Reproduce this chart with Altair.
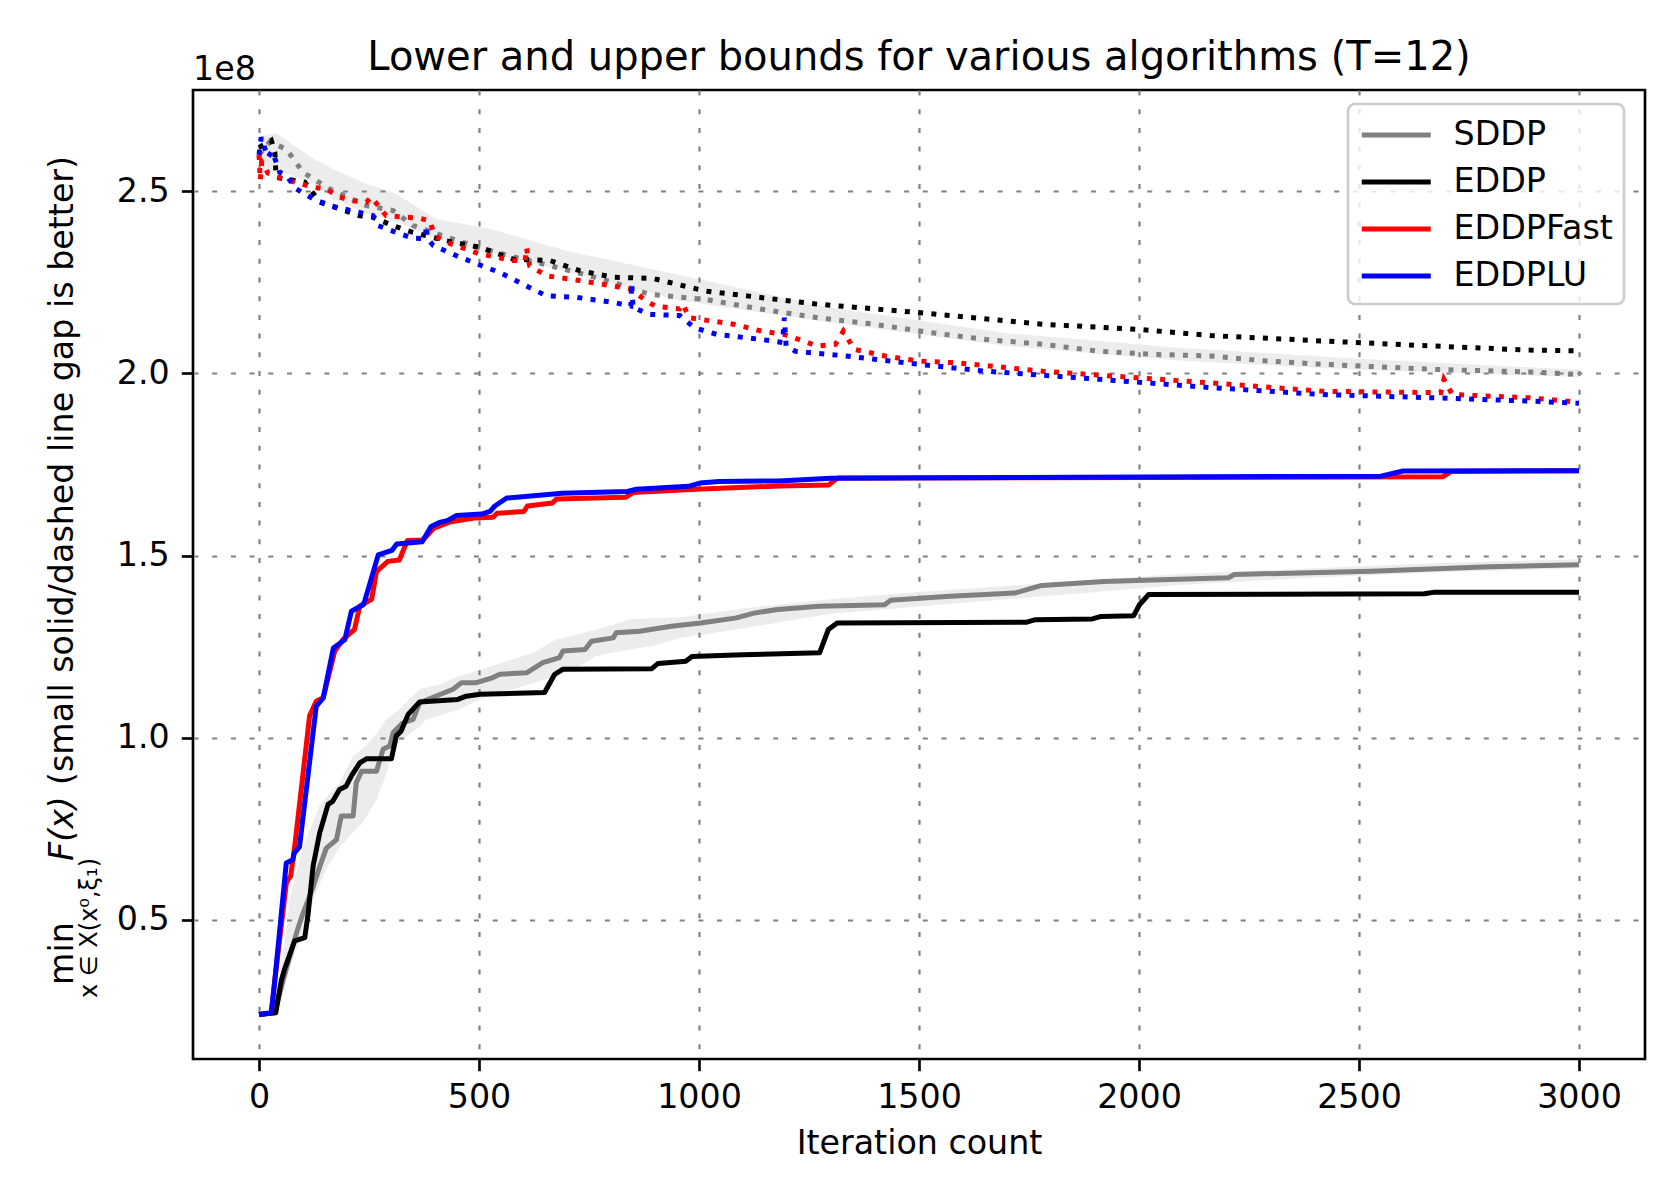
import altair as alt
import pandas as pd

FONT = "DejaVu Sans"

series_names = ["SDDP", "EDDP", "EDDPFast", "EDDPLU"]
series_colors = ["#808080", "#000000", "#ff0000", "#0000ff"]

x_ticks = [0, 500, 1000, 1500, 2000, 2500, 3000]
y_ticks = [0.5, 1.0, 1.5, 2.0, 2.5]

# ---------- lower bounds (solid), values in units of 1e8 ----------
sddp_lb_x = [0, 35, 55, 85, 100, 120, 138, 153, 176, 187, 214, 221, 233, 267, 282, 297, 305, 327, 350, 365,
             441, 460, 494, 532, 547, 608, 645, 683, 691, 741, 756, 805, 812, 865, 937, 1004, 1085, 1125, 1179, 1274,
             1422, 1435, 1570, 1718, 1779, 1920, 2203, 2217, 2527, 2796, 3000]
sddp_lb_y = [0.24, 0.245, 0.335, 0.463, 0.518, 0.58, 0.646, 0.697, 0.72, 0.785, 0.785, 0.876, 0.908, 0.908, 0.968, 0.977, 1.014, 1.041, 1.05, 1.096,
             1.133, 1.151, 1.151, 1.165, 1.174, 1.178, 1.206, 1.22, 1.238, 1.242, 1.265, 1.274, 1.288, 1.292, 1.306, 1.315, 1.329, 1.342, 1.352, 1.361,
             1.365, 1.377, 1.388, 1.397, 1.418, 1.429, 1.439, 1.448, 1.457, 1.469, 1.475]

eddp_lb_x = [0, 38, 51, 58, 70, 81, 104, 111, 123, 138, 157, 168, 183, 198, 210, 229, 244, 301, 312, 323,
             339, 365, 452, 471, 502, 649, 672, 691, 892, 907, 970, 984, 1098, 1274, 1294, 1314, 1745, 1765, 1894, 1914,
             1988, 2001, 2022, 2649, 2669, 3000]
eddp_lb_y = [0.24, 0.245, 0.335, 0.364, 0.405, 0.442, 0.451, 0.51, 0.648, 0.739, 0.817, 0.826, 0.858, 0.867, 0.895, 0.931, 0.942, 0.942, 1.005, 1.018,
             1.064, 1.098, 1.105, 1.114, 1.119, 1.124, 1.174, 1.188, 1.189, 1.204, 1.21, 1.223, 1.228, 1.233, 1.297, 1.315, 1.317, 1.324, 1.326, 1.333,
             1.335, 1.365, 1.393, 1.395, 1.399, 1.399]

fast_lb_x = [0, 28, 36, 62, 66, 72, 81, 100, 115, 130, 146, 172, 191, 217, 229, 256, 267, 280, 293, 319,
             337, 371, 380, 397, 436, 489, 532, 541, 602, 610, 667, 676, 833, 850, 993, 1183, 1295, 1315, 2690, 2710, 3000]
fast_lb_y = [0.24, 0.245, 0.335, 0.60, 0.61, 0.62, 0.70, 0.90, 1.06, 1.10, 1.11, 1.237, 1.27, 1.297, 1.361, 1.38, 1.456, 1.47, 1.484, 1.488,
             1.541, 1.543, 1.552, 1.575, 1.593, 1.603, 1.605, 1.616, 1.621, 1.636, 1.644, 1.655, 1.66, 1.673, 1.682, 1.691, 1.694, 1.713, 1.716, 1.731, 1.733]

lu_lb_x = [0, 28, 36, 62, 77, 80, 92, 130, 146, 169, 195, 210, 237, 241, 271, 302, 313, 371, 391, 410,
           428, 449, 506, 525, 536, 563, 689, 837, 858, 976, 1002, 1045, 1182, 1300, 2550, 2600, 3000]
lu_lb_y = [0.24, 0.245, 0.335, 0.656, 0.665, 0.683, 0.70, 1.086, 1.109, 1.246, 1.269, 1.347, 1.365, 1.378, 1.502, 1.514, 1.532, 1.538, 1.58, 1.591,
           1.596, 1.61, 1.614, 1.621, 1.636, 1.658, 1.671, 1.676, 1.682, 1.69, 1.699, 1.703, 1.705, 1.712, 1.718, 1.732, 1.733]

# ---------- upper bounds (dotted) ----------
sddp_ub_x = [0, 24, 62, 100, 161, 244, 305, 350, 426, 502, 577, 661, 729, 805, 888, 1015, 1143, 1270, 1398, 1526,
             1653, 1781, 1908, 2036, 2163, 2291, 2418, 2673, 2888, 3000]
sddp_ub_y = [2.60, 2.635, 2.616, 2.552, 2.506, 2.461, 2.447, 2.406, 2.374, 2.345, 2.32, 2.296, 2.275, 2.25, 2.217, 2.203, 2.176, 2.153, 2.135, 2.112,
             2.093, 2.08, 2.061, 2.052, 2.048, 2.034, 2.025, 2.011, 2.004, 1.997]

eddp_ub_x = [0, 28, 36, 39, 104, 138, 229, 259, 303, 350, 426, 502, 577, 661, 729, 805, 894, 1015, 1143, 1270,
             1500, 1781, 1997, 2163, 2418, 2673, 2888, 3000]
eddp_ub_y = [2.62, 2.64, 2.607, 2.538, 2.525, 2.47, 2.433, 2.429, 2.406, 2.387, 2.364, 2.346, 2.314, 2.31, 2.282, 2.264, 2.261, 2.226, 2.208, 2.19,
             2.167, 2.135, 2.121, 2.104, 2.089, 2.075, 2.064, 2.062]

fast_ub_x = [0, 3, 6, 20, 40, 70, 123, 153, 183, 214, 244, 255, 274, 289, 335, 365, 388, 399, 426, 502,
             577, 605, 608, 615, 653, 729, 805, 842, 880, 900, 956, 964, 977, 1079, 1143, 1194, 1270, 1310, 1328, 1353,
             1423, 1500, 1589, 1781, 1997, 2163, 2418, 2686, 2693, 2712, 2888, 3000]
fast_ub_y = [2.60, 2.53, 2.58, 2.55, 2.54, 2.529, 2.511, 2.506, 2.484, 2.474, 2.47, 2.484, 2.456, 2.433, 2.429, 2.426, 2.419, 2.378, 2.36, 2.328,
             2.31, 2.31, 2.345, 2.296, 2.268, 2.255, 2.24, 2.232, 2.20, 2.185, 2.177, 2.19, 2.153, 2.135, 2.116, 2.107, 2.075, 2.08, 2.116, 2.066,
             2.048, 2.034, 2.029, 2.006, 1.988, 1.974, 1.951, 1.947, 1.984, 1.942, 1.933, 1.921]

lu_ub_x = [0, 5, 20, 30, 39, 47, 62, 85, 123, 161, 191, 259, 270, 312, 350, 378, 380, 383, 396, 449,
           486, 547, 577, 653, 721, 805, 845, 847, 850, 858, 888, 956, 990, 1041, 1143, 1190, 1194, 1198, 1219, 1334,
           1500, 1653, 1908, 2163, 2418, 2673, 2888, 3000]
lu_ub_y = [2.60, 2.648, 2.593, 2.61, 2.58, 2.552, 2.543, 2.506, 2.479, 2.461, 2.452, 2.433, 2.406, 2.387, 2.371, 2.37, 2.406, 2.37, 2.351, 2.323,
           2.305, 2.277, 2.259, 2.213, 2.209, 2.195, 2.185, 2.247, 2.18, 2.177, 2.162, 2.159, 2.125, 2.107, 2.093, 2.085, 2.153, 2.075, 2.061, 2.048,
           2.025, 2.006, 1.984, 1.961, 1.942, 1.933, 1.924, 1.918]

# ---------- SDDP spread bands ----------
band_lb_x = [0, 30, 50, 70, 100, 138, 153, 183, 214, 236, 267, 289, 305, 320, 365, 380, 411, 456, 502, 539,
             577, 623, 676, 729, 767, 805, 842, 895, 956, 1100, 1300, 1500, 1800, 2100, 2400, 2700, 3000]
band_lb_hi = [0.24, 0.25, 0.36, 0.56, 0.70, 0.815, 0.835, 0.876, 0.95, 0.97, 1.01, 1.05, 1.065, 1.078, 1.133, 1.138, 1.146, 1.17, 1.185, 1.201,
              1.215, 1.233, 1.27, 1.285, 1.297, 1.31, 1.325, 1.328, 1.33, 1.355, 1.38, 1.40, 1.425, 1.45, 1.465, 1.48, 1.49]
band_lb_lo = [0.24, 0.24, 0.27, 0.37, 0.47, 0.60, 0.64, 0.70, 0.74, 0.767, 0.83, 0.90, 0.968, 0.99, 1.03, 1.05, 1.06, 1.078, 1.105, 1.12,
              1.133, 1.15, 1.17, 1.197, 1.225, 1.233, 1.242, 1.252, 1.274, 1.30, 1.34, 1.36, 1.39, 1.42, 1.44, 1.455, 1.465]

band_ub_x = [0, 39, 123, 168, 244, 305, 403, 524, 698, 956, 1300, 1700, 2100, 2500, 3000]
band_ub_hi = [2.65, 2.66, 2.589, 2.561, 2.52, 2.497, 2.424, 2.397, 2.337, 2.27, 2.18, 2.11, 2.07, 2.04, 2.01]
band_ub_lo = [2.55, 2.56, 2.52, 2.48, 2.44, 2.42, 2.37, 2.33, 2.28, 2.20, 2.14, 2.075, 2.035, 2.01, 1.99]

title_text = "Lower and upper bounds for various algorithms (T=12)"
x_title = "Iteration count"

# ---------- shared encodings ----------
X = alt.X("iter:Q",
          scale=alt.Scale(domain=[-150, 3150], nice=False, zero=False),
          axis=alt.Axis(values=x_ticks, title=x_title, format="d"))
Y = alt.Y("value:Q",
          scale=alt.Scale(domain=[0.118, 2.778], nice=False, zero=False),
          axis=alt.Axis(values=y_ticks, title=None, format=".1f"))
COLOR = alt.Color("series:N",
                  scale=alt.Scale(domain=series_names, range=series_colors),
                  legend=alt.Legend(title=None, orient="none", legendX=1155, legendY=14,
                                    symbolType="M-1,0H3", symbolSize=1190, symbolStrokeWidth=5,
                                    labelFontSize=33.3, labelFont=FONT, labelColor="black",
                                    labelOffset=54.5, rowPadding=10, padding=11,
                                    strokeColor="#cccccc", fillColor="rgba(255,255,255,0.8)",
                                    cornerRadius=7, symbolOpacity=1))


def band(xs, lo, hi):
    df = pd.DataFrame({"iter": xs, "value": lo, "hi": hi})
    return alt.Chart(df).mark_area(color="#808080", opacity=0.15).encode(
        x=X, y=Y, y2="hi:Q")


def solid(xs, ys, name):
    df = pd.DataFrame({"iter": xs, "value": ys, "series": [name] * len(xs)})
    return alt.Chart(df).mark_line(strokeWidth=5, strokeJoin="round").encode(
        x=X, y=Y, color=COLOR, order="iter:Q")


def dotted(xs, ys, color):
    df = pd.DataFrame({"iter": xs, "value": ys})
    return alt.Chart(df).mark_line(strokeWidth=5, strokeDash=[5, 8.3], strokeCap="butt",
                                   color=color).encode(x=X, y=Y, order="iter:Q")


def label(text, px, py, size=33.3, angle=270, style="normal", align="left"):
    df = pd.DataFrame({"t": [text]})
    return alt.Chart(df).mark_text(angle=angle, align=align, baseline="alphabetic",
                                   fontSize=size, font=FONT, fontStyle=style,
                                   color="black").encode(
        text="t:N", x=alt.value(px), y=alt.value(py))


layers = [
    band(band_lb_x, band_lb_lo, band_lb_hi),
    band(band_ub_x, band_ub_lo, band_ub_hi),
    solid(sddp_lb_x, sddp_lb_y, "SDDP"),
    dotted(sddp_ub_x, sddp_ub_y, series_colors[0]),
    solid(eddp_lb_x, eddp_lb_y, "EDDP"),
    dotted(eddp_ub_x, eddp_ub_y, series_colors[1]),
    solid(fast_lb_x, fast_lb_y, "EDDPFast"),
    dotted(fast_ub_x, fast_ub_y, series_colors[2]),
    solid(lu_lb_x, lu_lb_y, "EDDPLU"),
    dotted(lu_ub_x, lu_ub_y, series_colors[3]),
    label(title_text, 726, -20, size=40, angle=0, align="center"),
    label("1e8", 0, -10, angle=0),
    label("min", -120, 895),
    label("x ∈ X(x⁰,ξ₁)", -96, 908, size=24),
    label("F(x)", -120, 771, style="italic"),
    label("(small solid/dashed line gap is better)", -120, 695),
]

chart = alt.layer(*layers).properties(
    width=1452,
    height=969,
    padding={"left": 185, "top": 82, "right": 20, "bottom": 120},
    autosize=alt.AutoSizeParams(type="none"),
).configure(font=FONT, background="white").configure_view(
    stroke="black", strokeWidth=2.67
).configure_axis(
    labelFont=FONT, labelFontSize=33.3, labelColor="black",
    titleFont=FONT, titleFontSize=33.3, titleFontWeight="normal", titleColor="black",
    tickSize=11.7, tickWidth=2.67, tickColor="black",
    domain=False, grid=True, gridColor="#808080", gridDash=[5, 13.7], gridWidth=2.2,
    gridOpacity=1, labelFlush=False, labelOverlap=False,
).configure_axisX(
    labelPadding=11, titlePadding=13,
).configure_axisY(
    labelPadding=12,
).configure_legend(
    strokeWidth=2.67,
)

chart.save("out.html", embed_options={"renderer": "svg", "actions": False})
